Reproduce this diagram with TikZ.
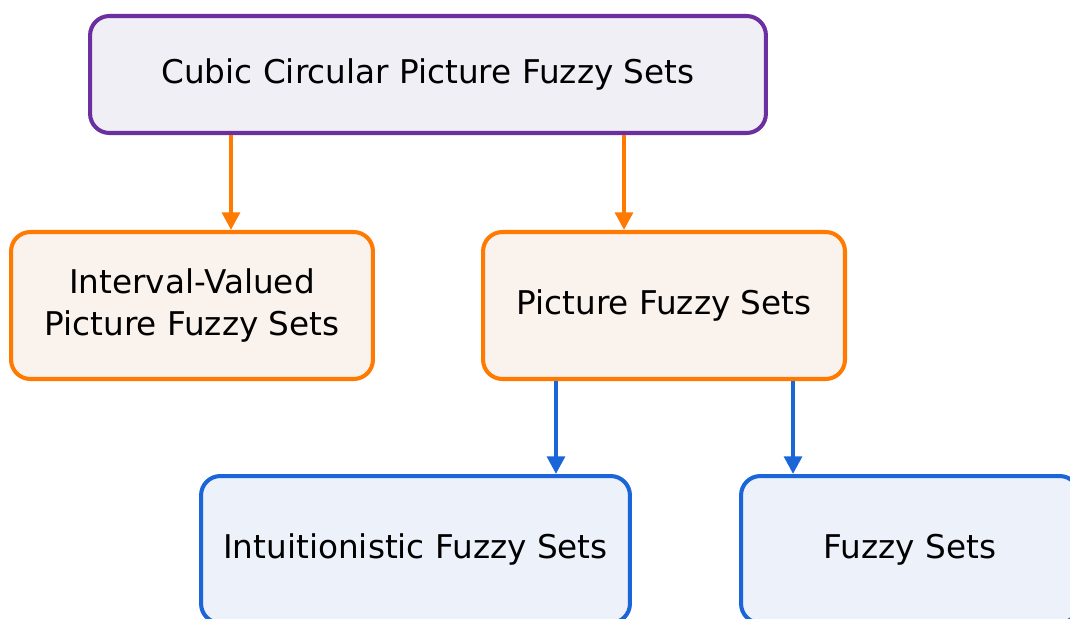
\documentclass[tikz,border=0pt]{standalone}
\usepackage{fontspec}
\setmainfont{DejaVu Sans}
\usetikzlibrary{positioning, arrows.meta}

\definecolor{topline}{HTML}{6B2FA0}
\definecolor{topfill}{HTML}{F1EFF6}
\definecolor{midline}{HTML}{FF7A00}
\definecolor{midfill}{HTML}{FAF2EC}
\definecolor{lowline}{HTML}{1A66D9}
\definecolor{lowfill}{HTML}{ECF1FA}

\tikzset{
  setbox/.style={draw, rounded corners=11pt, line width=2.3pt, align=center,
    font=\fontsize{18.6}{23.8}\selectfont, text=black, inner sep=0pt},
  topbox/.style={setbox, draw=topline, fill=topfill},
  midbox/.style={setbox, draw=midline, fill=midfill},
  lowbox/.style={setbox, draw=lowline, fill=lowfill},
  midarrow/.style={draw=midline, line width=2.3pt, -{Triangle[length=10pt, width=10pt]}},
  lowarrow/.style={draw=lowline, line width=2.3pt, -{Triangle[length=10pt, width=10pt]}}
}

\begin{document}
\begin{tikzpicture}[x=0.02cm,y=-0.02cm]
\useasboundingbox (0,0) rectangle (1070,618);

\node[topbox, minimum width=13.52cm, minimum height=2.34cm] (ccpfs) at (428,74.5)
  {Cubic Circular Picture Fuzzy Sets};

\node[midbox, minimum width=7.24cm, minimum height=2.94cm] (ivpfs) at (192,305.5)
  {Interval-Valued\\Picture Fuzzy Sets};
\node[midbox, minimum width=7.24cm, minimum height=2.94cm] (pfs) at (664,305.5)
  {Picture Fuzzy Sets};

\node[lowbox, minimum width=8.58cm, minimum height=2.94cm] (ifs) at (415.5,549.5)
  {Intuitionistic Fuzzy Sets};
\node[lowbox, minimum width=6.76cm, minimum height=2.94cm] (fs) at (910,549.5)
  {Fuzzy Sets};

% links
\draw[midarrow] ([xshift=0.78cm]ivpfs.north |- ccpfs.south) -- ([xshift=0.78cm]ivpfs.north);
\draw[midarrow] ([xshift=-0.8cm]pfs.north |- ccpfs.south) -- ([xshift=-0.8cm]pfs.north);
\draw[lowarrow] ([xshift=2.81cm]ifs.north |- pfs.south) -- ([xshift=2.81cm]ifs.north);
\draw[lowarrow] ([xshift=-2.34cm]fs.north |- pfs.south) -- ([xshift=-2.34cm]fs.north);
\end{tikzpicture}
\end{document}
